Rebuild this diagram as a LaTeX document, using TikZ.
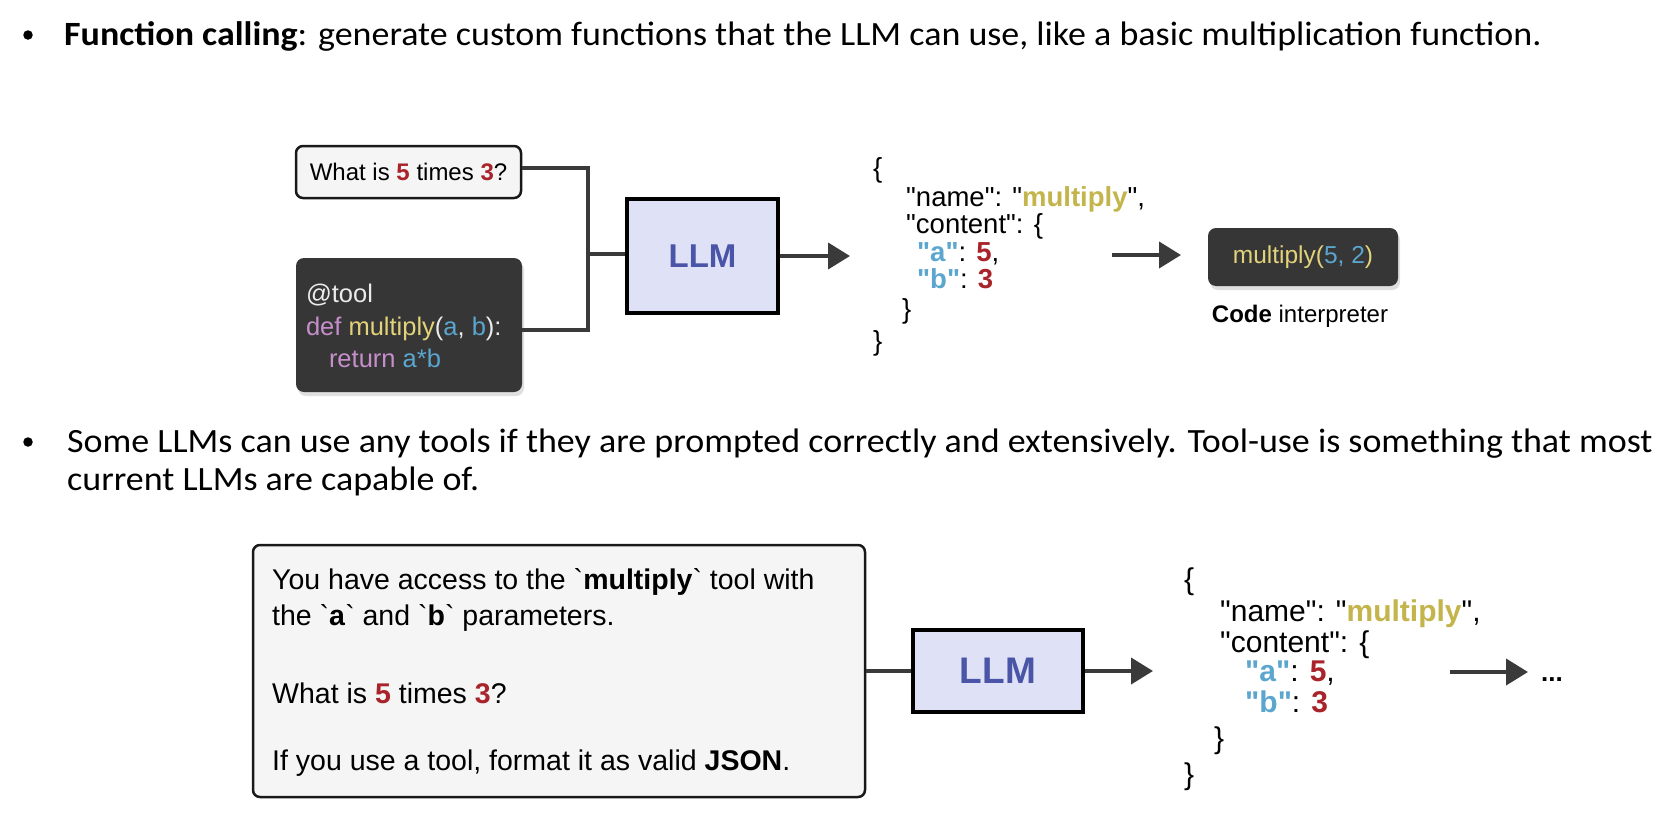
\documentclass[tikz,border=0pt]{standalone}
\usepackage{fontspec}
\setmainfont{Liberation Sans}[Ligatures=TeXOff]
\newfontfamily\calibri{Carlito}
\usetikzlibrary{arrows.meta,shadows}
\definecolor{cred}{HTML}{A8232A}
\definecolor{cyel}{HTML}{C4B44C}
\definecolor{cyelb}{HTML}{E2D37A}
\definecolor{cblue}{HTML}{5BA6CF}
\definecolor{cpink}{HTML}{C68FCB}
\definecolor{cdark}{HTML}{363636}
\definecolor{cline}{HTML}{3A3A3A}
\definecolor{llmfill}{HTML}{DFE2F6}
\definecolor{llmtext}{HTML}{4A55A7}
\definecolor{lightfill}{HTML}{F5F5F5}
\newcommand\rd[1]{{\bfseries\color{cred}#1}}
\newcommand\bl[1]{{\bfseries\color{cblue}#1}}
\newcommand\yl[1]{{\bfseries\color{cyel}#1}}
\newcommand\btk{\char"60}
\newcommand\wide[1]{\scalebox{1.058}[1]{#1}}
\begin{document}
\begin{tikzpicture}[x=1pt,y=-1pt,
  lightbox/.style={draw=black!90, line width=2.5pt, fill=lightfill, rounded corners=7pt},
  darkbox/.style={fill=cdark, rounded corners=8pt, drop shadow={shadow xshift=2pt,shadow yshift=-4pt,opacity=0.25}},
  llmbox/.style={draw=black, line width=4pt, fill=llmfill, font=\fontsize{33}{33}\selectfont\bfseries, text=llmtext},
  conn/.style={draw=cline, line width=4pt},
  arr/.style={conn, -{Triangle[length=22pt,width=26pt]}},
  bul/.style={font=\calibri\fontsize{34}{40}\selectfont, anchor=base west, inner sep=0pt},
  bdot/.style={circle, fill=black, inner sep=0pt, minimum size=9.5pt},
  txt/.style={anchor=west, inner sep=0pt},
  js1/.style={txt, font=\fontsize{27.5}{27.5}\selectfont},
  js2/.style={txt, font=\fontsize{30}{30}\selectfont},
]
\useasboundingbox (0,0) rectangle (1668,814);
\fill[white] (0,0) rectangle (1668,814);

% bullet 1
\node[bdot] (b1dot) at (28,35) {};
\node[bul] (b1) at (64,45) {\wide{\textbf{Function calling}: generate custom functions that the LLM can use, like a basic multiplication function.}};

% top diagram
\node[lightbox, minimum width=225pt, minimum height=52pt, font=\fontsize{24}{24}\selectfont] (q1) at (408.5,172) {What is \rd{5} times \rd{3}?};
\node[darkbox, minimum width=226pt, minimum height=134pt] (tool) at (409,325) {};
\node[txt, align=left, text=white!92!black, font=\fontsize{25.5}{32.5}\selectfont] (code) at ([xshift=10pt,yshift=-1pt]tool.west) {@tool\\
{\color{cpink}def} {\color{cyelb}multiply}({\color{cblue}a}, {\color{cblue}b}):\\
\hspace*{23pt}{\color{cpink}return} {\color{cblue}a*b}};
\node[llmbox, minimum width=151pt, minimum height=114pt] (llm1) at (702.5,256) {LLM};
\coordinate (jn) at (588,254);
\draw[conn] ([yshift=4pt]q1.east) -| (jn);
\draw[conn] ([yshift=-5pt]tool.east) -| (jn);
\draw[conn] (jn) -- (jn -| llm1.west);
\coordinate (a1e) at (850,256);
\draw[arr] (llm1.east) -- (a1e);

\node[js1] (j1a) at (873,170) {\{};
\node[js1] (j1b) at (906,199) {"name": "\yl{multiply}",};
\node[js1] (j1c) at (906,226) {"content": \{};
\node[js1] (j1d) at (917,254) {\bl{"a"}: \rd{5},};
\node[js1] (j1e) at (917,279) {\bl{"b"}: \rd{3}};
\node[js1] (j1f) at (902,311) {\}};
\node[js1] (j1g) at (873,343) {\}};

\coordinate (a2s) at (1112,255);
\coordinate (a2e) at (1181,255);
\draw[arr] (a2s) -- (a2e);
\node[darkbox, minimum width=190pt, minimum height=58pt, text=white, font=\fontsize{24.5}{24.5}\selectfont] (ci) at (1303,257) {{\color{cyelb}multiply(}{\color{cblue}5, 2}{\color{cyelb})}};
\node[font=\fontsize{24}{24}\selectfont, inner sep=0pt] (cil) at (1300,316) {\textbf{Code} interpreter};

% bullet 2
\node[bdot] (b2dot) at (28,442) {};
\node[bul] (b2) at (67,452) {\wide{Some LLMs can use any tools if they are prompted correctly and extensively. Tool-use is something that most}};
\node[bul] (b2l) at (67,490) {\wide{current LLMs are capable of.}};

% bottom diagram
\node[lightbox, minimum width=612pt, minimum height=252pt] (pbox) at (559,671) {};
\begin{scope}[every node/.style={txt, font=\fontsize{28.5}{28.5}\selectfont}]
\node (p1) at (272,582) {You have access to the \btk\textbf{multiply}\btk\ tool with};
\node (p2) at (272,618) {the \btk\textbf{a}\btk\ and \btk\textbf{b}\btk\ parameters.};
\node (p3) at (272,693) {What is \rd{5} times \rd{3}?};
\node (p4) at (272,763) {If you use a tool, format it as valid \textbf{JSON}.};
\end{scope}
\node[llmbox, minimum width=170pt, minimum height=82pt, font=\fontsize{37}{37}\selectfont\bfseries] (llm2) at (998,671) {LLM};
\draw[conn] (pbox.east) -- (llm2.west);
\coordinate (a3e) at (1153,671);
\draw[arr] (llm2.east) -- (a3e);

\node[js2] (j2a) at (1184,582) {\{};
\node[js2] (j2b) at (1220,614) {"name": "\yl{multiply}",};
\node[js2] (j2c) at (1220,645) {"content": \{};
\node[js2] (j2d) at (1245,673) {\bl{"a"}: \rd{5},};
\node[js2] (j2e) at (1245,702) {\bl{"b"}: \rd{3}};
\node[js2] (j2f) at (1214,741) {\}};
\node[js2] (j2g) at (1184,777) {\}};

\coordinate (a4s) at (1450,672);
\coordinate (a4e) at (1528,672);
\draw[arr] (a4s) -- (a4e);
\node[anchor=base west, inner sep=0pt, font=\fontsize{26}{26}\selectfont\bfseries] (dots) at (1541,681) {...};
\end{tikzpicture}
\end{document}
